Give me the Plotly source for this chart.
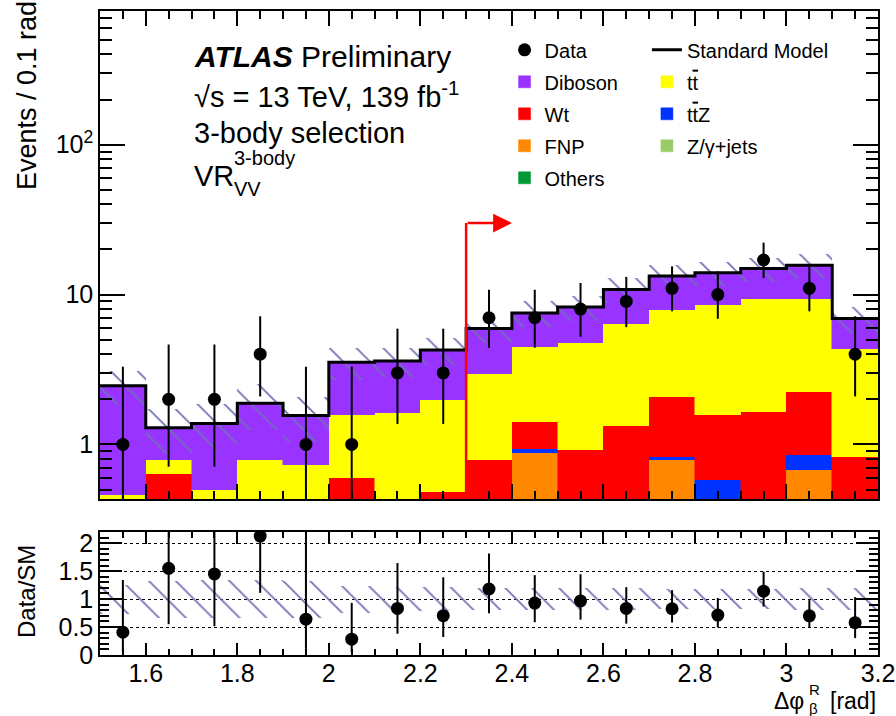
import numpy as np
import plotly.graph_objects as go

# ---------------- data ----------------
bin_edges = [1.5, 1.6, 1.7, 1.8, 1.9, 2.0, 2.1, 2.2, 2.3, 2.4, 2.5, 2.6, 2.7, 2.8, 2.9, 3.0, 3.1, 3.2]
bin_centers = [1.55, 1.65, 1.75, 1.85, 1.95, 2.05, 2.15, 2.25, 2.35, 2.45, 2.55, 2.65, 2.75, 2.85, 2.95, 3.05, 3.15]

data = [1, 2, 2, 4, 1, 1, 3, 3, 7, 7, 8, 9, 11, 10, 17, 11, 4]
data_err_up = [2.30, 2.64, 2.64, 3.16, 2.30, 2.30, 2.92, 2.92, 3.77, 3.77, 3.95, 4.11, 4.42, 4.27, 5.20, 4.42, 3.16]
data_err_dn = [0.83, 1.29, 1.29, 1.91, 0.83, 0.83, 1.63, 1.63, 2.58, 2.58, 2.77, 2.94, 3.27, 3.11, 4.10, 3.27, 1.91]

others  = [0.02, 0.01, 0.02, 0.03, 0.02, 0.03, 0.04, 0.03, 0.05, 0.04, 0.05, 0.04, 0.06, 0.05, 0.06, 0.05, 0.04]
zjets   = [0.00, 0.02, 0.00, 0.01, 0.00, 0.02, 0.00, 0.01, 0.02, 0.00, 0.01, 0.02, 0.00, 0.01, 0.00, 0.02, 0.01]
fnp     = [0.10, 0.15, 0.08, 0.12, 0.10, 0.20, 0.15, 0.12, 0.18, 0.84, 0.20, 0.25, 0.73, 0.12, 0.20, 0.61, 0.15]
ttz     = [0.01, 0.02, 0.02, 0.02, 0.03, 0.03, 0.04, 0.05, 0.06, 0.05, 0.06, 0.07, 0.04, 0.40, 0.10, 0.17, 0.05]
wt      = [0.20, 0.43, 0.20, 0.20, 0.22, 0.32, 0.15, 0.27, 0.48, 0.49, 0.60, 0.95, 1.25, 0.98, 1.29, 1.39, 0.58]
ttbar   = [0.13, 0.16, 0.18, 0.41, 0.36, 0.97, 1.24, 1.49, 2.14, 3.05, 3.84, 5.01, 5.86, 6.92, 7.75, 7.16, 3.47]
diboson = [2.00, 0.50, 0.88, 1.09, 0.83, 1.97, 1.98, 2.29, 3.00, 3.07, 3.51, 4.46, 5.36, 5.52, 5.50, 6.30, 2.62]

sm_rel_unc = [0.26, 0.33, 0.34, 0.34, 0.33, 0.24, 0.22, 0.21, 0.20, 0.20, 0.19, 0.19, 0.18, 0.18, 0.18, 0.19, 0.20]

x_tick_vals = [1.6, 1.8, 2.0, 2.2, 2.4, 2.6, 2.8, 3.0, 3.2]
x_tick_text = ["1.6", "1.8", "2", "2.2", "2.4", "2.6", "2.8", "3", "3.2"]
y_tick_vals = [1, 10, 100]
y_tick_text = ["1", "10", "10<sup>2</sup>"]
y_minor_vals = [0.5, 0.6, 0.7, 0.8, 0.9, 2, 3, 4, 5, 6, 7, 8, 9,
                20, 30, 40, 50, 60, 70, 80, 90, 200, 300, 400, 500, 600, 700]
r_tick_vals = [0, 0.5, 1, 1.5, 2]
r_tick_text = ["0", "0.5", "1", "1.5", "2"]

CUT_VALUE = 2.3
ARROW_END = 2.4
ARROW_HEIGHT = 30.0

# ---------------- styles ----------------
FONT = "Liberation Sans, Arial, Helvetica, sans-serif"
HATCH = "#7070b4"
BIN_W = 0.1
Y_MIN, Y_MAX = 0.432, 780.0
ylo, yhi = np.log10(Y_MIN), np.log10(Y_MAX)

total = np.sum([others, zjets, fnp, ttz, wt, ttbar, diboson], axis=0)
unc_abs = total * np.array(sm_rel_unc)
ratio = np.array(data) / total
ratio_up = np.array(data_err_up) / total
ratio_dn = np.array(data_err_dn) / total

fig = go.Figure()

stack = [
    ("Others", others, "#009933", "legend", 5),
    ("Z/\u03b3+jets", zjets, "#99cc66", "legend2", 4),
    ("FNP", fnp, "#ff8800", "legend", 4),
    ("t<span style='text-decoration:overline'>t</span>Z", ttz, "#0033ff", "legend2", 3),
    ("Wt", wt, "#ff0000", "legend", 3),
    ("t<span style='text-decoration:overline'>t</span>", ttbar, "#ffff00", "legend2", 2),
    ("Diboson", diboson, "#9933ff", "legend", 2),
]
for name, vals, col, leg, rank in stack:
    fig.add_trace(go.Bar(
        x=bin_centers, y=vals, width=BIN_W, name=name,
        marker=dict(color=col, line=dict(color=col, width=0.5)),
        legend=leg, legendrank=rank, legendgroup=name,
        xaxis="x", yaxis="y", hoverinfo="skip"))

hatch = dict(shape="\\", fgcolor=HATCH, bgcolor="rgba(0,0,0,0)",
             size=19, solidity=0.09, fillmode="replace")

# SM uncertainty band (hatched)
fig.add_trace(go.Bar(
    x=bin_centers, y=2 * unc_abs, base=total - unc_abs, width=BIN_W,
    marker=dict(color="rgba(0,0,0,0)", line=dict(width=0), pattern=hatch),
    showlegend=False, xaxis="x", yaxis="y", hoverinfo="skip"))

# SM total line
fig.add_trace(go.Scatter(
    x=bin_edges, y=list(total) + [total[-1]], mode="lines",
    line=dict(shape="hv", color="black", width=3),
    name="Standard Model", legend="legend2", legendrank=1, legendgroup="sm",
    xaxis="x", yaxis="y", hoverinfo="skip"))

# Data
fig.add_trace(go.Scatter(
    x=bin_centers, y=data, mode="markers",
    marker=dict(color="black", size=13),
    error_y=dict(type="data", array=data_err_up, arrayminus=data_err_dn,
                 color="black", thickness=2, width=0),
    name="Data", legend="legend", legendrank=1, legendgroup="data",
    xaxis="x", yaxis="y"))

# Ratio band
fig.add_trace(go.Bar(
    x=bin_centers, y=2 * np.array(sm_rel_unc), base=1 - np.array(sm_rel_unc), width=BIN_W,
    marker=dict(color="rgba(0,0,0,0)", line=dict(width=0), pattern=hatch),
    showlegend=False, xaxis="x2", yaxis="y2", hoverinfo="skip"))

# Ratio points
fig.add_trace(go.Scatter(
    x=bin_centers, y=ratio, mode="markers",
    marker=dict(color="black", size=13),
    error_y=dict(type="data", array=ratio_up, arrayminus=ratio_dn,
                 color="black", thickness=2, width=0),
    showlegend=False, xaxis="x2", yaxis="y2"))

axis_common = dict(showline=True, linecolor="black", linewidth=1.5, mirror="ticks",
                   ticks="inside", tickcolor="black", tickwidth=1.5,
                   zeroline=False, showgrid=False, automargin=False,
                   tickfont=dict(family=FONT, size=25, color="black"))

main_bottom = 0.2422
ratio_top = 0.191

fig.update_layout(
    width=896, height=716,
    margin=dict(l=100, r=18, t=11, b=61, autoexpand=False),
    paper_bgcolor="white", plot_bgcolor="white",
    barmode="stack", bargap=0,
    font=dict(family=FONT, size=20, color="black"),
    xaxis=dict(domain=[0, 1], anchor="y", range=[1.5, 3.2], matches="x2",
               tickmode="array", tickvals=x_tick_vals, showticklabels=False, ticklen=15,
               minor=dict(dtick=0.05, tick0=1.5, ticks="inside", ticklen=8,
                          tickwidth=1.5, tickcolor="black"),
               **axis_common),
    yaxis=dict(domain=[main_bottom, 1], anchor="x", type="log", range=[ylo, yhi],
               tickmode="array", tickvals=y_tick_vals, ticktext=y_tick_text, ticklen=25,
               minor=dict(tickmode="array", tickvals=y_minor_vals, ticks="inside",
                          ticklen=12, tickwidth=1.5, tickcolor="black"),
               **axis_common),
    xaxis2=dict(domain=[0, 1], anchor="y2", range=[1.5, 3.2],
                tickmode="array", tickvals=x_tick_vals, ticktext=x_tick_text, ticklen=12,
                ticklabelstandoff=-5,
                minor=dict(dtick=0.05, tick0=1.5, ticks="inside", ticklen=6,
                           tickwidth=1.5, tickcolor="black"),
                **axis_common),
    yaxis2=dict(domain=[0, ratio_top], anchor="x2", range=[0, 2.2],
                tickmode="array", tickvals=r_tick_vals, ticktext=r_tick_text, ticklen=22,
                minor=dict(dtick=0.1, tick0=0, ticks="inside", ticklen=9,
                           tickwidth=1.5, tickcolor="black"),
                **{k: v for k, v in axis_common.items() if k != "showgrid"},
                showgrid=True, gridcolor="black", gridwidth=1, griddash="dot"),
    legend=dict(x=0.52, y=0.97, xanchor="left", yanchor="top",
                bgcolor="rgba(0,0,0,0)", traceorder="grouped", tracegroupgap=3,
                font=dict(family=FONT, size=20, color="black")),
    legend2=dict(x=0.703, y=0.97, xanchor="left", yanchor="top",
                 bgcolor="rgba(0,0,0,0)", traceorder="grouped", tracegroupgap=3,
                 font=dict(family=FONT, size=20, color="black")),
    showlegend=True,
)

# Cut arrow
yfrac = (np.log10(ARROW_HEIGHT) - ylo) / (yhi - ylo)
fig.add_shape(type="line", xref="x", yref="y domain", x0=CUT_VALUE, x1=CUT_VALUE,
              y0=0, y1=yfrac, line=dict(color="red", width=2.5))
fig.add_annotation(xref="x", yref="y domain", x=ARROW_END, y=yfrac, ax=CUT_VALUE, axref="x",
                   ay=0, ayref="pixel", text="", showarrow=True, arrowhead=2,
                   arrowsize=1.5, arrowwidth=2.5, arrowcolor="red", standoff=0)

def px2paper_x(px):
    return (px - 100) / 778.0

def px2paper_y(py):
    return (655 - py) / 644.0

big = dict(family=FONT, size=29, color="black")
small = dict(family=FONT, size=20, color="black")
ann = [
    dict(x=px2paper_x(192), y=px2paper_y(57), text="<b><i>ATLAS</i></b> Preliminary",
         font=dict(family=FONT, size=30, color="black"), xanchor="left"),
    dict(x=px2paper_x(192), y=px2paper_y(95), text="\u221as = 13 TeV, 139 fb<sup>-1</sup>", font=big, xanchor="left"),
    dict(x=px2paper_x(192), y=px2paper_y(133), text="3-body selection", font=big, xanchor="left"),
    dict(x=px2paper_x(192), y=px2paper_y(176), text="VR", font=big, xanchor="left"),
    dict(x=px2paper_x(232), y=px2paper_y(158), text="3-body", font=small, xanchor="left"),
    dict(x=px2paper_x(232), y=px2paper_y(189), text="VV", font=small, xanchor="left"),
    dict(x=px2paper_x(27), y=px2paper_y(96), text="Events / 0.1 rad", textangle=-90,
         font=dict(family=FONT, size=27, color="black"), xanchor="center"),
    dict(x=px2paper_x(26), y=px2paper_y(592), text="Data/SM", textangle=-90,
         font=dict(family=FONT, size=24, color="black"), xanchor="center"),
    dict(x=1.0, y=px2paper_y(701), text="[rad]", font=dict(family=FONT, size=23, color="black"), xanchor="right"),
    dict(x=px2paper_x(806), y=px2paper_y(701), text="\u0394\u03c6", font=dict(family=FONT, size=23, color="black"), xanchor="right"),
    dict(x=px2paper_x(807), y=px2paper_y(689), text="R", font=dict(family=FONT, size=15, color="black"), xanchor="left"),
    dict(x=px2paper_x(807), y=px2paper_y(708), text="\u03b2", font=dict(family=FONT, size=15, color="black"), xanchor="left"),
]
for a in ann:
    fig.add_annotation(xref="paper", yref="paper", showarrow=False, yanchor="middle", **a)

fig.write_html("out.html", config={"displayModeBar": False},
               post_script="document.body.style.margin='0px';document.body.style.padding='0px';")
